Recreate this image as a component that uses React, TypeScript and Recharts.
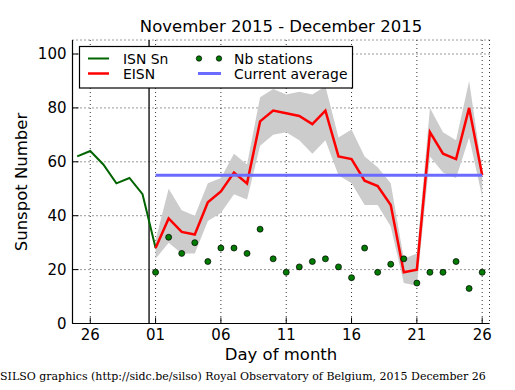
import { ComposedChart, Line, Area, XAxis, YAxis, CartesianGrid, ReferenceLine, Label } from 'recharts';

// day index: 0 = 1 December 2015, negative values are the end of November
const isnDays = [-6, -5, -4, -3, -2, -1, 0];
const isnSn = [62, 64, 59, 52, 54, 48, 28];

const decDays = [0, 1, 2, 3, 4, 5, 6, 7, 8, 9, 10, 11, 12, 13, 14, 15, 16, 17, 18, 19, 20, 21, 22, 23, 24, 25];
const eisn = [28, 39, 34, 33, 45, 49, 56, 52, 75, 79, 78, 77, 74, 79, 62, 61, 53, 51, 44, 19, 20, 71, 63, 61, 80, 55];
const eisnLow = [24, 30, 26, 26, 38, 41, 48, 46, 66, 70, 71, 68, 63, 68, 55, 52, 44, 44, 36, 15, 14, 62, 56, 54, 69, 47];
const eisnHigh = [31, 50, 42, 40, 52, 54, 63, 59, 84, 87, 85, 86, 85, 88, 69, 72, 62, 58, 52, 24, 26, 80, 71, 68, 90, 57];
const nbStations = [19, 32, 26, 30, 23, 28, 28, 26, 35, 24, 19, 21, 23, 24, 21, 17, 28, 19, 22, 24, 15, 19, 19, 23, 13, 19];
const currentAverage = 55;

const xMajorTicks = [-5, 0, 5, 10, 15, 20, 25];
const xTickLabels = ['26', '01', '06', '11', '16', '21', '26'];
const xMinorTicks = [-6, -5, -4, -3, -2, -1, 0, 1, 2, 3, 4, 5, 6, 7, 8, 9, 10, 11, 12, 13, 14, 15, 16, 17, 18, 19, 20, 21, 22, 23, 24, 25];
const yMajorTicks = [0, 20, 40, 60, 80, 100];
const yMinorTicks = [0, 5, 10, 15, 20, 25, 30, 35, 40, 45, 50, 55, 60, 65, 70, 75, 80, 85, 90, 95, 100, 105];

const rows = xMinorTicks.map((day) => {
  const i = isnDays.indexOf(day);
  const j = decDays.indexOf(day);
  return {
    day,
    isn: i >= 0 ? isnSn[i] : undefined,
    eisn: j >= 0 ? eisn[j] : undefined,
    band: j >= 0 ? [eisnLow[j], eisnHigh[j]] : undefined,
    stations: j >= 0 ? nbStations[j] : undefined,
  };
});

const FONT = 'DejaVu Sans';
const X_DOMAIN: [number, number] = [-6.36, 25.56];
const Y_DOMAIN: [number, number] = [0, 105.2];
const blank = () => '';
const tickStyle = { fontSize: 15, fill: '#000', fontFamily: FONT };

export default function App() {
  return (
    <div style={{ position: 'absolute', left: 0, top: 0, width: 515, height: 390, background: '#fff' }}>
      <ComposedChart width={515} height={390} data={rows} margin={{ top: 40, right: 25.5, bottom: 0, left: 0 }}>
        <CartesianGrid stroke="#000" strokeDasharray="1 3" strokeWidth={0.8} />

        {/* minor ticks first so they sit right against the frame */}
        <XAxis xAxisId="minB" dataKey="day" type="number" domain={X_DOMAIN} allowDataOverflow ticks={xMinorTicks}
          height={0} tickSize={-3} tickFormatter={blank} axisLine={false} tickLine={{ stroke: '#000' }} />
        <XAxis dataKey="day" type="number" domain={X_DOMAIN} allowDataOverflow ticks={xMajorTicks} interval={0}
          height={66.5} tickSize={-6} tickMargin={12} tick={tickStyle}
          tickFormatter={(v: number) => xTickLabels[xMajorTicks.indexOf(v)]}
          axisLine={{ stroke: '#000', strokeWidth: 1.2 }} tickLine={{ stroke: '#000' }}>
          <Label value="Day of month" position="insideBottom" offset={30} fontSize={16.5} fill="#000" fontFamily={FONT} />
        </XAxis>
        <XAxis xAxisId="minT" orientation="top" dataKey="day" type="number" domain={X_DOMAIN} allowDataOverflow ticks={xMinorTicks}
          height={0} tickSize={-3} tickFormatter={blank} axisLine={false} tickLine={{ stroke: '#000' }} />
        <XAxis xAxisId="top" orientation="top" dataKey="day" type="number" domain={X_DOMAIN} allowDataOverflow ticks={xMajorTicks}
          height={0} tickSize={-6} tickFormatter={blank} axisLine={{ stroke: '#000', strokeWidth: 1.2 }} tickLine={{ stroke: '#000' }} />

        <YAxis yAxisId="minL" type="number" domain={Y_DOMAIN} allowDataOverflow ticks={yMinorTicks}
          width={0} tickSize={-3} tickFormatter={blank} axisLine={false} tickLine={{ stroke: '#000' }} />
        <YAxis type="number" domain={Y_DOMAIN} allowDataOverflow ticks={yMajorTicks} interval={0}
          width={72.5} tickSize={-6} tickMargin={12} tick={tickStyle}
          axisLine={{ stroke: '#000', strokeWidth: 1.2 }} tickLine={{ stroke: '#000' }}>
          <Label
            content={() => (
              <text x={21} y={182} transform="rotate(-90, 21, 182)" textAnchor="middle" dominantBaseline="central"
                fontSize={16.5} fontFamily={FONT} fill="#000">
                Sunspot Number
              </text>
            )}
          />
        </YAxis>
        <YAxis yAxisId="minR" orientation="right" type="number" domain={Y_DOMAIN} allowDataOverflow ticks={yMinorTicks}
          width={0} tickSize={-3} tickFormatter={blank} axisLine={false} tickLine={{ stroke: '#000' }} />
        <YAxis yAxisId="right" orientation="right" type="number" domain={Y_DOMAIN} allowDataOverflow ticks={yMajorTicks}
          width={0} tickSize={-6} tickFormatter={blank} axisLine={{ stroke: '#000', strokeWidth: 1.2 }} tickLine={{ stroke: '#000' }} />

        <Area dataKey="band" stroke="none" fill="#cccccc" fillOpacity={1} isAnimationActive={false} />
        <ReferenceLine x={-0.5} stroke="#000" strokeWidth={1.3} />
        <Line dataKey="isn" stroke="#006400" strokeWidth={2} dot={false} isAnimationActive={false} />
        <Line dataKey="eisn" stroke="#ff0000" strokeWidth={2.5} dot={false} isAnimationActive={false} />
        <ReferenceLine
          segment={[{ x: 0, y: currentAverage }, { x: 25, y: currentAverage }]}
          stroke="#6b6bff" strokeWidth={3}
        />
        <Line dataKey="stations" stroke="none" isAnimationActive={false}
          dot={{ r: 3, fill: '#007a00', stroke: '#000', strokeWidth: 0.7 }} activeDot={false} />
      </ComposedChart>

      <svg width={515} height={390} style={{ position: 'absolute', left: 0, top: 0, pointerEvents: 'none' }}>
        <text x={281} y={32} textAnchor="middle" fontSize={16.5} fontFamily={FONT}>
          November 2015 - December 2015
        </text>

        <rect x={79.5} y={46.5} width={273} height={41.5} fill="#fff" stroke="#000" strokeWidth={1.2} />
        <line x1={88} x2={109} y1={58.5} y2={58.5} stroke="#006400" strokeWidth={2} />
        <text x={123} y={63.5} fontSize={13.9} fontFamily={FONT}>ISN Sn</text>
        <line x1={88} x2={109} y1={73.5} y2={73.5} stroke="#ff0000" strokeWidth={2.5} />
        <text x={123} y={79} fontSize={13.9} fontFamily={FONT}>EISN</text>
        <circle cx={199} cy={58.5} r={2.7} fill="#007a00" stroke="#000" strokeWidth={0.7} />
        <circle cx={219} cy={58.5} r={2.7} fill="#007a00" stroke="#000" strokeWidth={0.7} />
        <text x={234} y={63.5} fontSize={13.9} fontFamily={FONT}>Nb stations</text>
        <line x1={198} x2={221} y1={73.5} y2={73.5} stroke="#6b6bff" strokeWidth={3} />
        <text x={234} y={79} fontSize={13.9} fontFamily={FONT}>Current average</text>

        <text x={0} y={380} fontSize={11} fontFamily="DejaVu Serif">
          SILSO graphics (http://sidc.be/silso) Royal Observatory of Belgium, 2015 December 26
        </text>
      </svg>
    </div>
  );
}
